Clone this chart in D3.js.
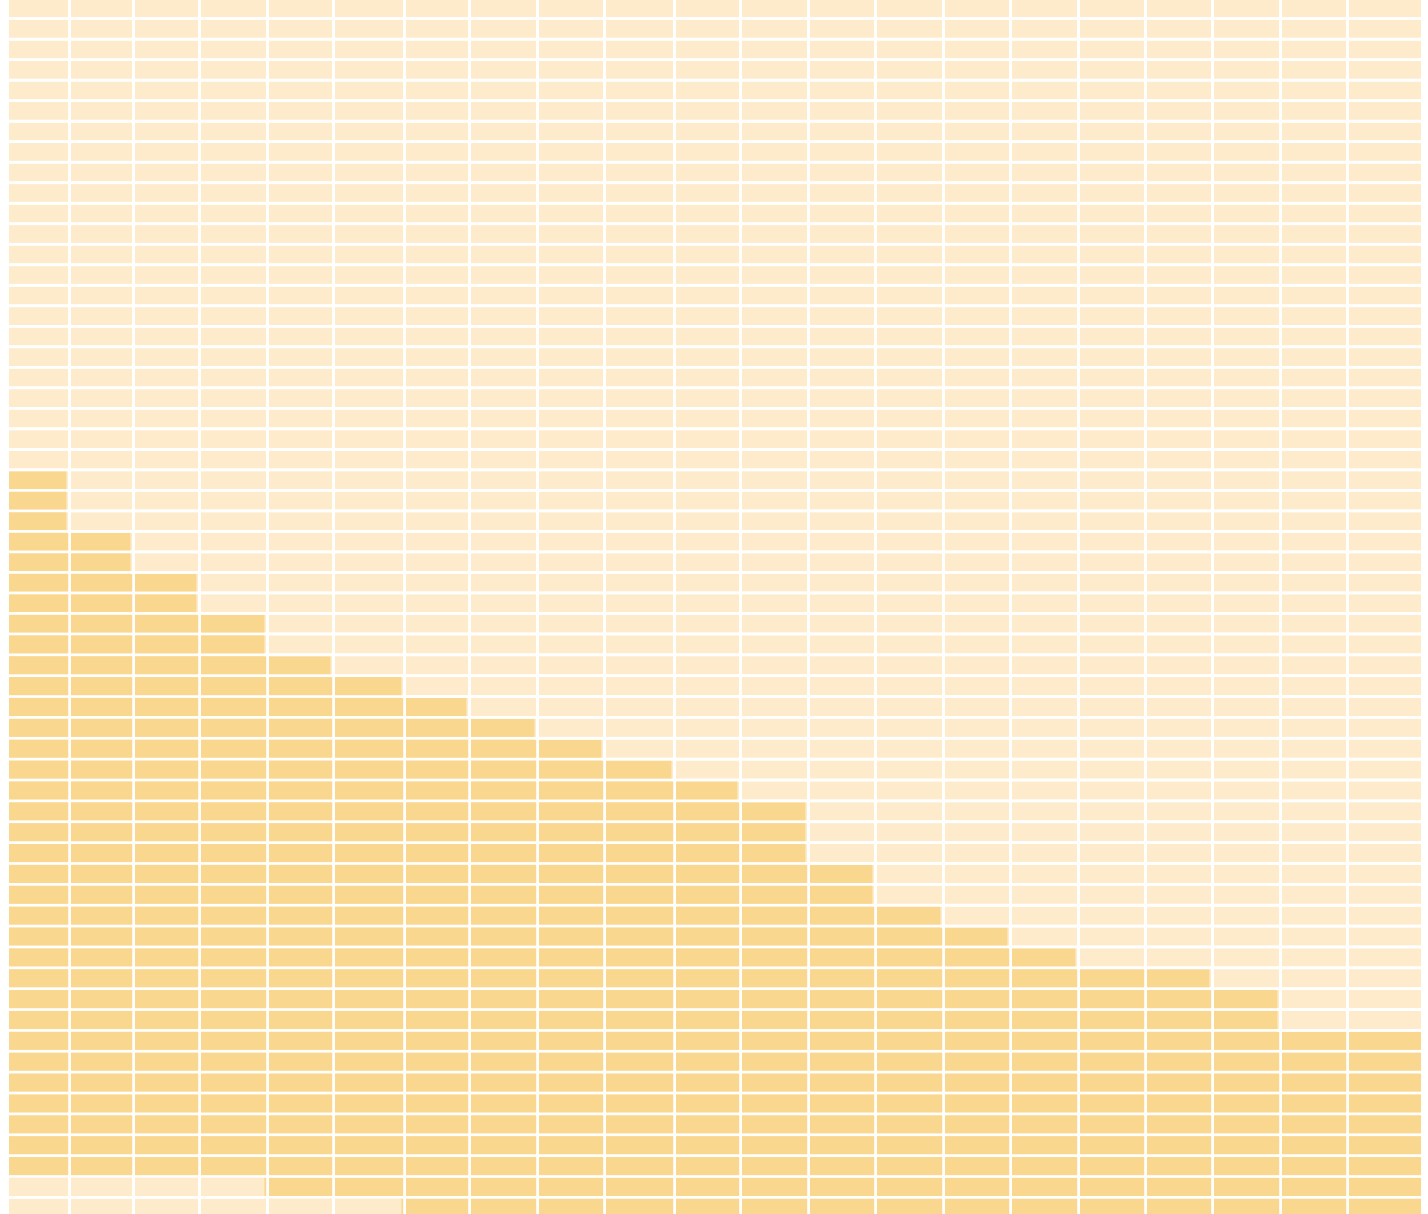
<!DOCTYPE html>
<html>
<head>
<meta charset="utf-8">
<script src="https://cdn.jsdelivr.net/npm/d3@7"></script>
<style>
  body { margin: 0; background: #fff; }
</style>
</head>
<body>
<script>
// relative width of each column (cohort size)
const colWeights = [62, 64, 66, 68, 66, 71, 65, 68, 67, 70, 66, 68, 67, 68, 67, 68, 67, 67, 68, 67, 75];
// first and last filled row of every column
const firstRow = [23, 26, 28, 30, 32, 33, 34, 35, 36, 37, 38, 39, 42, 44, 45, 46, 47, 47, 48, 50, 50];
const lastRow = [56, 56, 56, 56, 57, 57, 58, 58, 58, 58, 58, 58, 58, 58, 58, 58, 58, 58, 58, 58, 58];
const rowCount = 59;

const width = 1428;
const height = 1214;
const gapX = 2.8;
const gapY = 2.7;
const stepShift = 4.6; // filled area steps a little before the column edge

const colorEmpty = '#fdebcc';
const colorFilled = '#fad78f';

// cumulative column edges
const edges = [0];
colWeights.forEach(w => edges.push(edges[edges.length - 1] + w));

const xScale = d3.scaleLinear()
  .domain([0, edges[edges.length - 1]])
  .range([9, 1424]);

// row index -> top of row
const yScale = d3.scaleLinear()
  .domain([1, 31, 58])
  .range([20, 635.3, 1198.7]);

const svg = d3.select('body')
  .append('svg')
  .attr('width', width)
  .attr('height', height);

const cells = [];
colWeights.forEach((w, c) => {
  for (let r = 0; r < rowCount; r++) cells.push({ c, r });
});

// background grid
svg.append('g')
  .selectAll('rect')
  .data(cells)
  .enter()
  .append('rect')
  .attr('x', d => xScale(edges[d.c]))
  .attr('y', d => yScale(d.r))
  .attr('width', d => xScale(edges[d.c + 1]) - xScale(edges[d.c]) - gapX)
  .attr('height', d => yScale(d.r + 1) - yScale(d.r) - gapY)
  .attr('fill', colorEmpty);

// filled area as one step shape
const steps = firstRow.map((f, c) => ({
  x: c === 0 ? xScale(edges[0]) : xScale(edges[c]) - stepShift,
  top: yScale(f),
  bottom: yScale(lastRow[c] + 1)
}));
const lastStep = steps[steps.length - 1];
steps.push({ x: xScale(edges[edges.length - 1]) - gapX, top: lastStep.top, bottom: lastStep.bottom });

const area = d3.area()
  .x(d => d.x)
  .y0(d => d.bottom)
  .y1(d => d.top)
  .curve(d3.curveStepAfter);

svg.append('path')
  .datum(steps)
  .attr('d', area)
  .attr('fill', colorFilled);

// white gutters on top
svg.append('g')
  .selectAll('rect')
  .data(d3.range(colWeights.length))
  .enter()
  .append('rect')
  .attr('x', c => xScale(edges[c + 1]) - gapX)
  .attr('y', 0)
  .attr('width', gapX)
  .attr('height', height)
  .attr('fill', '#fff');

svg.append('g')
  .selectAll('rect')
  .data(d3.range(rowCount))
  .enter()
  .append('rect')
  .attr('x', 0)
  .attr('y', r => yScale(r + 1) - gapY)
  .attr('width', width)
  .attr('height', gapY)
  .attr('fill', '#fff');
</script>
</body>
</html>
